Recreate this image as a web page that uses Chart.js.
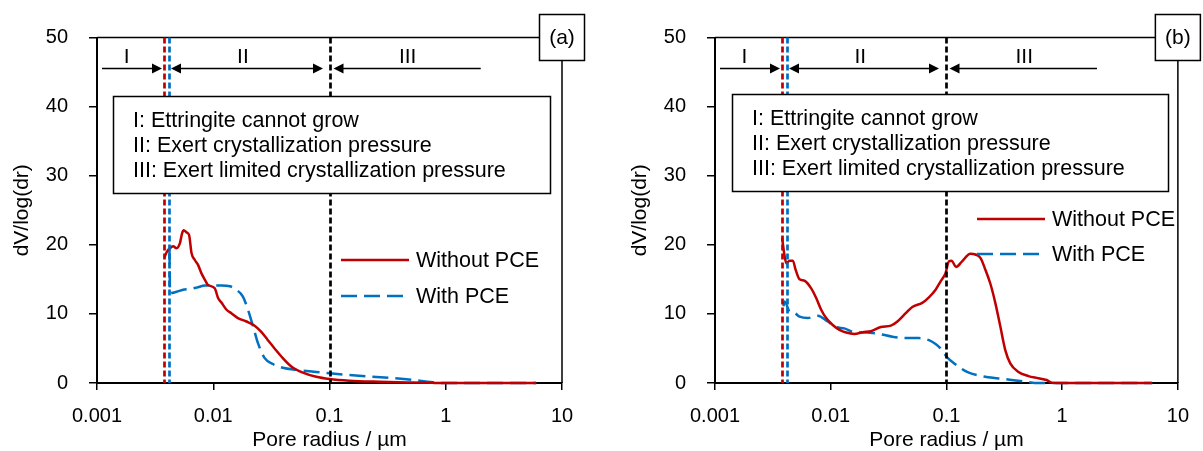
<!DOCTYPE html>
<html>
<head>
<meta charset="utf-8">
<script src="https://cdn.jsdelivr.net/npm/chart.js@4.4.0/dist/chart.umd.min.js"></script>
<style>
    html, body { margin: 0; padding: 0; background: #fff; }
    #wrap { position: relative; width: 1203px; height: 451px; overflow: hidden; }
    #wrap canvas { position: absolute; top: 0; }
</style>
</head>
<body>
<div id="wrap">
    <canvas id="chartA" width="618" height="451" style="left:0"></canvas>
    <canvas id="chartB" width="585" height="451" style="left:618px"></canvas>
</div>
<script>
"use strict";

// axis ticks (pore radius, µm)
var xTicks = [0.001, 0.01, 0.1, 1, 10];

// panel (a)
var aWithoutR = [0.0038, 0.0040, 0.00423, 0.00452, 0.00483, 0.00516, 0.0054, 0.00558, 0.00589, 0.0062,
    0.0065, 0.00694, 0.0074, 0.0079, 0.0085, 0.0090, 0.0103, 0.0110, 0.0118, 0.0130,
    0.0143, 0.0163, 0.0193, 0.0227, 0.0259, 0.0295, 0.0337, 0.0397, 0.0469, 0.059,
    0.0769, 0.1, 0.148, 0.27, 0.49, 0.77, 1.0, 6.0];
var aWithoutV = [18.2, 19.0, 19.5, 19.8, 19.5, 20.2, 21.7, 22.1, 21.8, 21.4,
    18.8, 17.8, 17.1, 15.9, 14.9, 14.2, 13.7, 12.3, 11.6, 10.6,
    10.1, 9.4, 8.9, 8.3, 7.4, 6.2, 5.0, 3.6, 2.4, 1.5,
    0.9, 0.58, 0.33, 0.18, 0.08, 0.02, 0, 0];
var aWithR = [0.0042, 0.00425, 0.00483, 0.0055, 0.0063, 0.0072, 0.0085, 0.0100, 0.0118, 0.0139,
    0.0158, 0.0180, 0.0199, 0.0220, 0.0242, 0.0277, 0.0326, 0.0397, 0.0518, 0.0769,
    0.1, 0.148, 0.234, 0.458, 0.77, 0.92, 6.0];
var aWithV = [19.5, 13.0, 13.2, 13.5, 13.6, 13.8, 14.1, 14.1, 14.1, 14.0,
    13.5, 12.5, 10.6, 8.2, 5.8, 3.6, 2.75, 2.2, 1.9, 1.6,
    1.4, 1.15, 0.9, 0.55, 0.1, 0, 0];

// panel (b)
var bWithoutR = [0.0038, 0.0040, 0.00414, 0.00441, 0.00471, 0.00497, 0.00538, 0.00594, 0.00678, 0.00749,
    0.00827, 0.00913, 0.0104, 0.0119, 0.0136, 0.0160, 0.0189, 0.0223, 0.0271, 0.0331,
    0.0377, 0.0445, 0.0507, 0.0618, 0.0706, 0.0806, 0.089, 0.0982, 0.105, 0.1106,
    0.1212, 0.1365, 0.161, 0.178, 0.1965, 0.217, 0.2394, 0.2644, 0.292, 0.322,
    0.356, 0.419, 0.511, 0.623, 0.734, 0.811, 0.89, 6.0];
var bWithoutV = [21.0, 18.3, 17.3, 17.7, 17.7, 16.4, 15.0, 14.8, 13.7, 12.3,
    10.6, 9.4, 8.4, 7.7, 7.3, 7.1, 7.35, 7.5, 8.1, 8.3,
    8.9, 10.1, 11.0, 11.6, 12.4, 13.5, 14.7, 15.9, 17.6, 17.7,
    16.8, 17.6, 18.7, 18.6, 18.1, 16.4, 14.4, 11.6, 8.2, 4.8,
    2.85, 1.6, 1.0, 0.7, 0.43, 0.05, 0, 0];
var bWithR = [0.0039, 0.0040, 0.00441, 0.00488, 0.00538, 0.00634, 0.00773, 0.00942, 0.0111, 0.0131,
    0.0160, 0.0202, 0.0262, 0.0341, 0.0445, 0.0579, 0.0706, 0.0806, 0.089, 0.1014,
    0.1197, 0.1507, 0.217, 0.322, 0.479, 0.623, 6.0];
var bWithV = [11.1, 11.8, 10.3, 10.1, 9.6, 9.4, 9.75, 8.9, 8.1, 7.9,
    7.35, 7.3, 7.1, 6.7, 6.5, 6.5, 6.2, 5.65, 5.0, 3.7,
    2.7, 1.6, 0.9, 0.55, 0.2, 0, 0];

// region boundaries and annotations
var markerR = [0.0038, 0.0042, 0.1];
var arrowEndR = 2;
var regionLabels = ["I", "II", "III"];
var regionLabelR = [0.0018, 0.018, 0.47];
var regionNotes = [
    "I: Ettringite cannot grow",
    "II: Exert crystallization pressure",
    "III: Exert limited crystallization pressure"
];
var seriesNames = ["Without PCE", "With PCE"];

var FONT = "'Liberation Sans', Arial, sans-serif";
var RED = "#C00000";
var BLUE = "#0070C0";

function pts(rs, vs) {
    return rs.map(function (r, i) { return { x: r, y: vs[i] }; });
}

function arrow(ctx, x1, x2, y, headLeft, headRight) {
    var hl = 10, hw = 5;
    ctx.beginPath();
    ctx.moveTo(headLeft ? x1 + hl - 1 : x1, y);
    ctx.lineTo(headRight ? x2 - hl + 1 : x2, y);
    ctx.stroke();
    if (headLeft) {
        ctx.beginPath();
        ctx.moveTo(x1, y); ctx.lineTo(x1 + hl, y - hw); ctx.lineTo(x1 + hl, y + hw);
        ctx.closePath(); ctx.fill();
    }
    if (headRight) {
        ctx.beginPath();
        ctx.moveTo(x2, y); ctx.lineTo(x2 - hl, y - hw); ctx.lineTo(x2 - hl, y + hw);
        ctx.closePath(); ctx.fill();
    }
}

var overlayPlugin = {
    id: "overlay",
    afterDatasetsDraw: function (chart, args, o) {
        var ctx = chart.ctx, area = chart.chartArea, xs = chart.scales.x;
        ctx.save();

        // plot frame (top and right)
        ctx.strokeStyle = "#000";
        ctx.lineWidth = 1.5;
        ctx.beginPath();
        ctx.moveTo(area.left, area.top);
        ctx.lineTo(area.right, area.top);
        ctx.lineTo(area.right, area.bottom);
        ctx.stroke();

        // region boundary lines
        var px = markerR.map(function (r) { return Math.round(xs.getPixelForValue(r)) + 0.5; });
        ctx.lineWidth = 2.7;
        ctx.setLineDash([6, 3]);
        px.forEach(function (p, i) {
            ctx.strokeStyle = o.markerColors[i];
            ctx.beginPath();
            ctx.moveTo(p, area.top);
            ctx.lineTo(p, area.bottom);
            ctx.stroke();
        });
        ctx.setLineDash([]);

        // arrows
        ctx.strokeStyle = "#000";
        ctx.fillStyle = "#000";
        ctx.lineWidth = 1.3;
        var ay = o.arrowY;
        arrow(ctx, area.left + 5, px[0] - 2.5, ay, false, true);
        arrow(ctx, px[1] + 1.5, px[2] - 7.5, ay, true, true);
        arrow(ctx, px[2] + 3, xs.getPixelForValue(arrowEndR), ay, true, false);

        ctx.font = "21px " + FONT;
        ctx.textAlign = "center";
        ctx.textBaseline = "middle";
        regionLabels.forEach(function (t, i) {
            ctx.fillText(t, xs.getPixelForValue(regionLabelR[i]), o.arrowY - 11);
        });

        // notes box
        var b = o.noteBox;
        ctx.fillStyle = "#fff";
        ctx.fillRect(b[0], b[1], b[2], b[3]);
        ctx.lineWidth = 1.5;
        ctx.strokeRect(b[0], b[1], b[2], b[3]);
        ctx.fillStyle = "#000";
        ctx.textAlign = "left";
        ctx.textBaseline = "alphabetic";
        ctx.font = "21.5px " + FONT;
        regionNotes.forEach(function (t, i) {
            ctx.fillText(t, b[0] + 19.5, b[1] + 30 + i * 25);
        });

        // legend
        chart.data.datasets.forEach(function (ds, i) {
            var ly = o.legendY[i];
            ctx.strokeStyle = ds.borderColor;
            ctx.lineWidth = ds.borderWidth;
            ctx.setLineDash(ds.borderDash || []);
            ctx.beginPath();
            ctx.moveTo(o.legendX, ly);
            ctx.lineTo(o.legendX + 68, ly);
            ctx.stroke();
            ctx.setLineDash([]);
            ctx.fillStyle = "#000";
            ctx.textBaseline = "middle";
            ctx.fillText(ds.label, o.legendX + 75, ly + 1);
        });

        // panel tag box
        ctx.fillStyle = "#fff";
        ctx.fillRect(area.right - 22.5, 14.5, 45, 46);
        ctx.strokeStyle = "#000";
        ctx.lineWidth = 1.5;
        ctx.strokeRect(area.right - 22.5, 14.5, 45, 46);
        ctx.fillStyle = "#000";
        ctx.textAlign = "center";
        ctx.textBaseline = "middle";
        ctx.font = "21px " + FONT;
        ctx.fillText(o.tag, area.right, 38);

        ctx.restore();
    }
};

function makeChart(id, rWithout, vWithout, rWith, vWith, padRight, ov) {
    var ctx = document.getElementById(id).getContext("2d");
    var tickFont = { family: FONT, size: 20 };
    return new Chart(ctx, {
        type: "line",
        data: {
            datasets: [
                {
                    label: seriesNames[0],
                    data: pts(rWithout, vWithout),
                    borderColor: RED,
                    borderWidth: 2.5,
                    fill: false,
                    clip: false
                },
                {
                    label: seriesNames[1],
                    data: pts(rWith, vWith),
                    borderColor: BLUE,
                    borderWidth: 2.5,
                    borderDash: [16, 7],
                    fill: false,
                    clip: false
                }
            ]
        },
        plugins: [overlayPlugin],
        options: {
            responsive: false,
            animation: false,
            devicePixelRatio: 1,
            layout: { padding: { left: 0, top: 37.5, right: padRight, bottom: 0 } },
            elements: {
                point: { radius: 0, hoverRadius: 0 },
                line: { cubicInterpolationMode: "monotone" }
            },
            plugins: {
                legend: { display: false },
                tooltip: { enabled: false },
                overlay: ov
            },
            scales: {
                x: {
                    type: "logarithmic",
                    min: 0.001,
                    max: 10,
                    afterBuildTicks: function (s) {
                        s.ticks = xTicks.map(function (v) { return { value: v }; });
                    },
                    afterFit: function (s) { s.height = 68; },
                    ticks: {
                        color: "#000",
                        font: tickFont,
                        padding: 14,
                        maxRotation: 0,
                        autoSkip: false,
                        callback: function (v) { return String(v); }
                    },
                    grid: { drawOnChartArea: false, tickLength: 7, color: "#000", lineWidth: 1.5 },
                    border: { color: "#000", width: 2 },
                    title: {
                        display: true,
                        text: "Pore radius / µm",
                        color: "#000",
                        font: { family: FONT, size: 21, lineHeight: 1 },
                        padding: 0
                    }
                },
                y: {
                    min: 0,
                    max: 50,
                    afterFit: function (s) { s.width = 97; },
                    ticks: { stepSize: 10, color: "#000", font: tickFont, padding: 21 },
                    grid: { drawOnChartArea: false, tickLength: 8, color: "#000", lineWidth: 1.5 },
                    border: { color: "#000", width: 2 },
                    title: {
                        display: true,
                        text: "dV/log(dr)",
                        color: "#000",
                        font: { family: FONT, size: 21, lineHeight: 1.2 },
                        padding: { top: 10, bottom: 0 }
                    }
                }
            }
        }
    });
}

var markerColors = [RED, BLUE, "#000"];

makeChart("chartA", aWithoutR, aWithoutV, aWithR, aWithV, 56, {
    tag: "(a)", markerColors: markerColors, arrowY: 68.5,
    noteBox: [113.5, 96.5, 437, 97], legendX: 341, legendY: [260, 296]
});
makeChart("chartB", bWithoutR, bWithoutV, bWithR, bWithV, 23, {
    tag: "(b)", markerColors: markerColors, arrowY: 68.5,
    noteBox: [114.5, 94.5, 436, 97], legendX: 359, legendY: [219, 254]
});
</script>
</body>
</html>
